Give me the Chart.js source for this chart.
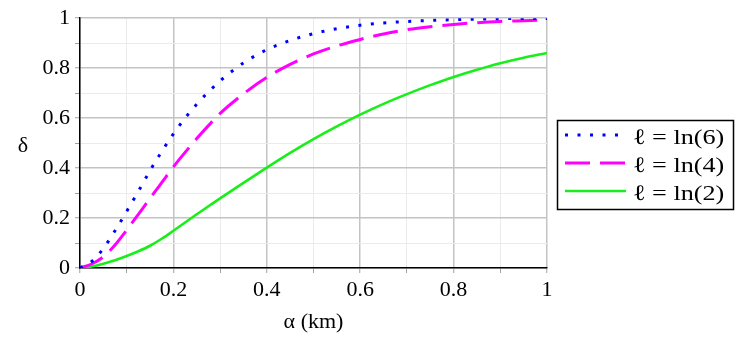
<!DOCTYPE html>
<html><head><meta charset="utf-8">
<script src="https://cdn.jsdelivr.net/npm/chart.js@4.4.1/dist/chart.umd.min.js"></script>
<style>html,body{margin:0;padding:0;background:#fff}#wrap{width:747px;height:338px;position:relative}canvas{display:block}</style>
</head><body><div id="wrap"><canvas id="c" width="747" height="338" style="width:747px;height:338px"></canvas></div>
<script>
// ---- data ----
const alphaValues = [0, 0.025, 0.05, 0.075, 0.1, 0.125, 0.15, 0.175, 0.2, 0.225, 0.25, 0.275, 0.3, 0.35, 0.4, 0.45, 0.5, 0.55, 0.6, 0.65, 0.7, 0.75, 0.8, 0.85, 0.9, 0.95, 1];
const deltaLn6 = [0, 0.026, 0.078, 0.149, 0.227, 0.307, 0.39, 0.466, 0.537, 0.60, 0.656, 0.705, 0.749, 0.821, 0.874, 0.911, 0.938, 0.958, 0.972, 0.981, 0.987, 0.991, 0.994, 0.996, 0.998, 0.999, 0.999];
const deltaLn4 = [0, 0.016, 0.045, 0.092, 0.152, 0.215, 0.279, 0.342, 0.405, 0.463, 0.518, 0.57, 0.619, 0.697, 0.763, 0.815, 0.857, 0.889, 0.915, 0.937, 0.954, 0.966, 0.975, 0.982, 0.987, 0.990, 0.993];
const deltaLn2 = [0, 0.006, 0.017, 0.031, 0.048, 0.067, 0.089, 0.117, 0.149, 0.182, 0.215, 0.247, 0.279, 0.341, 0.402, 0.461, 0.516, 0.567, 0.614, 0.657, 0.696, 0.732, 0.765, 0.794, 0.82, 0.842, 0.861];
const seriesLabels = ['ℓ = ln(6)', 'ℓ = ln(4)', 'ℓ = ln(2)'];
const xTitle = 'α (km)';
const yTitle = 'δ';

const FONT = '"Liberation Serif", "Times New Roman", serif';
const toPts = arr => alphaValues.map((a, i) => ({x: a, y: arr[i]}));

function tickLabel(v) {
  const k = Math.round(v * 10);
  if (k % 2 !== 0) return '';
  if (k === 0) return '0';
  if (k === 10) return '1';
  return (k / 10).toFixed(1);
}
const isMajor = ctx => ctx.tick && Math.round(ctx.tick.value * 10) % 2 === 0;

const decorations = {
  id: 'decorations',
  afterDraw(chart) {
    const ctx = chart.ctx;
    ctx.save();
    ctx.fillStyle = '#000';
    ctx.font = '22px ' + FONT;
    ctx.textAlign = 'center';
    ctx.textBaseline = 'alphabetic';
    ctx.fillText(yTitle, 23, 152);
    // legend
    ctx.strokeStyle = '#000';
    ctx.lineWidth = 1.5;
    ctx.setLineDash([]);
    ctx.strokeRect(557.5, 120.5, 176, 89);
    chart.data.datasets.forEach((ds, i) => {
      const y = 135 + i * 28;
      ctx.save();
      ctx.strokeStyle = ds.borderColor;
      ctx.lineWidth = ds.borderWidth;
      ctx.setLineDash(ds.borderDash || []);
      ctx.lineCap = 'butt';
      ctx.beginPath();
      ctx.moveTo(565, y);
      ctx.lineTo(626, y);
      ctx.stroke();
      ctx.restore();
      ctx.save();
      ctx.translate(633, y + 9);
      ctx.scale(1.19, 1);
      ctx.textAlign = 'left';
      ctx.fillStyle = '#000';
      ctx.font = '22px ' + FONT;
      ctx.fillText(ds.label, 0, 0);
      ctx.restore();
    });
    ctx.restore();
  }
};

new Chart(document.getElementById('c'), {
  type: 'line',
  data: {
    datasets: [
      {label: seriesLabels[0], data: toPts(deltaLn6), borderColor: '#0000ff', borderWidth: 3, borderDash: [3, 9.5]},
      {label: seriesLabels[1], data: toPts(deltaLn4), borderColor: '#ff00ff', borderWidth: 3, borderDash: [25, 10]},
      {label: seriesLabels[2], data: toPts(deltaLn2), borderColor: '#1aee1a', borderWidth: 2.6}
    ]
  },
  options: {
    responsive: false,
    animation: false,
    devicePixelRatio: 1,
    layout: {padding: {left: 0, right: 200, top: 14, bottom: 0}},
    elements: {point: {radius: 0}, line: {cubicInterpolationMode: 'monotone', fill: false}},
    plugins: {legend: {display: false}, tooltip: {enabled: false}},
    scales: {
      x: {
        type: 'linear', min: 0, max: 1,
        afterFit: s => { s.height = 70; },
        ticks: {stepSize: 0.1, autoSkip: false, maxRotation: 0, padding: 4, color: '#000', font: {family: FONT, size: 22}, callback: v => tickLabel(v)},
        grid: {color: c => isMajor(c) ? '#c3c3c3' : '#ebebeb', lineWidth: c => isMajor(c) ? 1.5 : 1, tickColor: '#a0a0a0', tickLength: 5, tickWidth: 1},
        border: {color: '#000', width: 1.5},
        title: {display: true, text: xTitle, color: '#000', font: {family: FONT, size: 22}, padding: {top: 0, bottom: 3}}
      },
      y: {
        type: 'linear', min: 0, max: 1,
        afterFit: s => { s.width = 80; },
        ticks: {stepSize: 0.1, autoSkip: false, padding: 5, color: '#000', font: {family: FONT, size: 22}, callback: v => tickLabel(v)},
        grid: {color: c => isMajor(c) ? '#c3c3c3' : '#ebebeb', lineWidth: c => isMajor(c) ? 1.5 : 1, tickColor: '#a0a0a0', tickLength: 5, tickWidth: 1},
        border: {color: '#000', width: 1.5}
      }
    }
  },
  plugins: [decorations]
});
</script>
</body></html>
